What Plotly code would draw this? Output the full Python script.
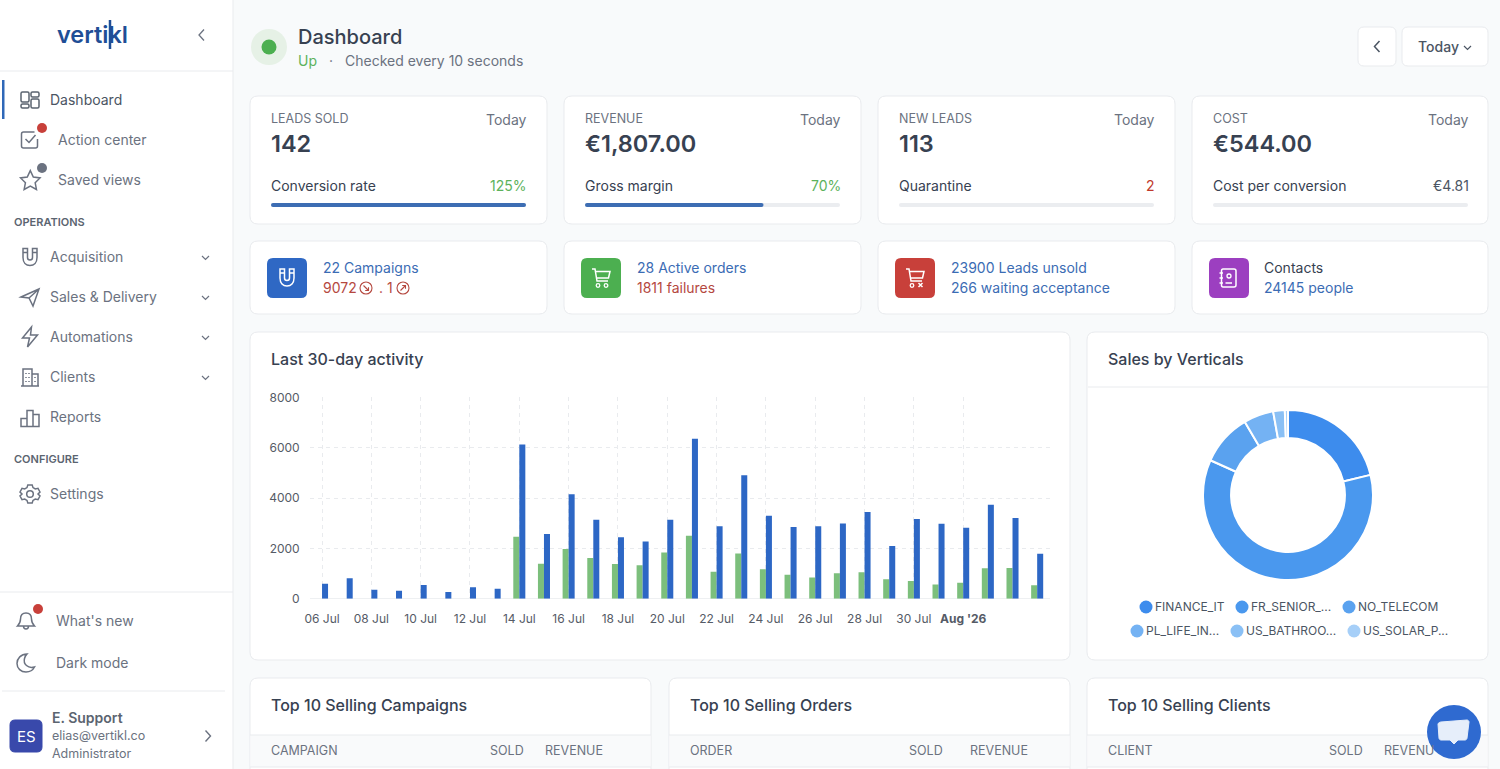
import re
import plotly.graph_objects as go

FONT = "Inter"
DARK = "#374151"
GREY = "#6b7280"
BLUE = "#3b6cb4"
RED = "#b5483f"
GREEN = "#5cb25c"
BORDER = "#e9ebee"
PAGE = "#f8fafb"

# activity chart
days = ["06 Jul", "07 Jul", "08 Jul", "09 Jul", "10 Jul", "11 Jul", "12 Jul", "13 Jul", "14 Jul", "15 Jul",
        "16 Jul", "17 Jul", "18 Jul", "19 Jul", "20 Jul", "21 Jul", "22 Jul", "23 Jul", "24 Jul", "25 Jul",
        "26 Jul", "27 Jul", "28 Jul", "29 Jul", "30 Jul", "31 Jul", "01 Aug", "02 Aug", "03 Aug", "04 Aug"]
sold = [0, 0, 0, 0, 0, 0, 0, 0, 2463, 1390,
        1973, 1615, 1377, 1324, 1840, 2502, 1072, 1800, 1165, 953,
        847, 1006, 1046, 768, 702, 569, 635, 1205, 1218, 530]
leads = [596, 808, 357, 318, 543, 265, 450, 397, 6130, 2570,
         4145, 3138, 2436, 2277, 3138, 6355, 2873, 4900, 3297, 2847,
         2873, 2992, 3442, 2092, 3164, 2979, 2820, 3734, 3204, 1787]
tick_days = days[0:27:2]
tick_labels = ["06 Jul", "08 Jul", "10 Jul", "12 Jul", "14 Jul", "16 Jul", "18 Jul", "20 Jul", "22 Jul",
               "24 Jul", "26 Jul", "28 Jul", "30 Jul", "<b>Aug '26</b>"]

# donut
verticals = ["FINANCE_IT", "FR_SENIOR_...", "NO_TELECOM", "PL_LIFE_IN...", "US_BATHROO...", "US_SOLAR_P..."]
vertical_share = [21.2, 60.5, 9.8, 5.7, 2.2, 0.6]
vertical_colors = ["#3d8ced", "#4a98ee", "#5aa2ef", "#74b2f3", "#8ac0f5", "#a6cff8"]
legend_pos = [(1146, 607), (1242, 607), (1349, 607), (1137, 631), (1237, 631), (1354, 631)]

# cards
kpi_titles = ["LEADS SOLD", "REVENUE", "NEW LEADS", "COST"]
kpi_values = ["142", "€1,807.00", "113", "€544.00"]
kpi_rows = ["Conversion rate", "Gross margin", "Quarantine", "Cost per conversion"]
kpi_notes = ["125%", "70%", "2", "€4.81"]
kpi_note_colors = [GREEN, GREEN, "#c0392b", "#4b5563"]
kpi_progress = [1.0, 0.70, 0, 0]
card_x = [250, 564, 878, 1192]

shapes = []
notes = []


def text(x, y, s, size=14, color=GREY, weight=400, anchor="left"):
    notes.append(dict(x=x, y=y - 0.7, xref="x", yref="y", text=s, showarrow=False, xanchor=anchor, yanchor="middle",
                      font=dict(family=FONT, size=size, color=color, weight=weight), borderpad=0, borderwidth=0))


def box(x0, y0, x1, y1, r=8, fill="white", line=BORDER, width=1):
    path = (f"M{x0 + r} {y0} L{x1 - r} {y0} Q{x1} {y0} {x1} {y0 + r} L{x1} {y1 - r} Q{x1} {y1} {x1 - r} {y1} "
            f"L{x0 + r} {y1} Q{x0} {y1} {x0} {y1 - r} L{x0} {y0 + r} Q{x0} {y0} {x0 + r} {y0} Z")
    shapes.append(dict(type="path", path=path, xref="x", yref="y", fillcolor=fill, layer="below",
                       line=dict(color=line, width=width)))


def hline(x0, x1, y, color=BORDER, width=1):
    shapes.append(dict(type="line", x0=x0, x1=x1, y0=y, y1=y, xref="x", yref="y", layer="below",
                       line=dict(color=color, width=width)))


def dot(cx, cy, r, fill=None, line=None, width=1.5, layer="below"):
    shapes.append(dict(type="circle", x0=cx - r, x1=cx + r, y0=cy - r, y1=cy + r, xref="x", yref="y", layer=layer,
                       fillcolor=fill or "rgba(0,0,0,0)", line=dict(color=line or "rgba(0,0,0,0)", width=width if line else 0)))


def icon(path, ox, oy, color=GREY, width=1.5, fill=None, s=1.0, layer="below"):
    out, i = [], 0
    for tok in re.findall(r"[A-Za-z]|-?[\d.]+", path):
        if tok.isalpha():
            out.append(tok)
        else:
            out.append(str(float(tok) * s + (oy if i % 2 else ox)))
            i += 1
    shapes.append(dict(type="path", path=" ".join(out), xref="x", yref="y", layer=layer,
                       fillcolor=fill or "rgba(0,0,0,0)", line=dict(color=color, width=width)))


MAGNET = ("M3 1 L3 10 C3 15 6 18 10 18 C14 18 17 15 17 10 L17 1 L12.5 1 L12.5 10 C12.5 11.5 11.5 12.5 10 12.5 "
          "C8.5 12.5 7.5 11.5 7.5 10 L7.5 1 Z M3 5 L7.5 5 M12.5 5 L17 5")
CART = "M1 1 L4 1 L6 13 L17 13 M4.5 3.5 L19 3.5 L17.5 10 L5.3 10"
CHEV_DOWN = "M0 0 L3.5 3.5 L7 0"
CHEV_LEFT = "M5 0 L0 5.5 L5 11"

# sidebar
box(-3, -3, 233, 772, r=0)
hline(0, 233, 71)
hline(0, 233, 592)
hline(2, 225, 691)
shapes.append(dict(type="rect", x0=2, x1=4.5, y0=80, y1=119, xref="x", yref="y", fillcolor="#2f68b8",
                   layer="below", line=dict(width=0)))

text(57, 35.5, "vertikl", 23.5, "#1f4e96", 600)
shapes.append(dict(type="line", x0=110, x1=110, y0=20, y1=49, xref="x", yref="y", layer="above",
                   line=dict(color="#1f4e96", width=2.5)))
icon(CHEV_LEFT, 199, 29.5, GREY, 1.3)

text(50, 100, "Dashboard", 14, "#4b5563")
for bx0, by0, bx1, by1 in [(21, 92, 29, 102), (21, 104, 29, 108), (31, 92, 39, 97), (31, 99, 39, 108)]:
    box(bx0, by0, bx1, by1, r=1.5, fill="white", line="#5b6470", width=1.5)

text(58, 140, "Action center")
icon("M14 1 L3 1 C2 1 1 2 1 3 L1 15 C1 16 2 17 3 17 L15 17 C16 17 17 16 17 15 L17 8 M5 8 L8.5 11.5 L15 4", 20.5, 131)
dot(42, 128, 5, fill="#c8403a")
text(58, 180, "Saved views")
icon("M10 1 L12.8 7 L19 7.8 L14.5 12.2 L15.7 18.5 L10 15.4 L4.3 18.5 L5.5 12.2 L1 7.8 L7.2 7 Z", 19.5, 169.5, s=1.08)
dot(42, 168, 5, fill=GREY)

text(14, 223, "OPERATIONS", 11, "#5b6470", 600)
text(50, 257, "Acquisition")
icon(MAGNET, 20, 247.5)
text(50, 297, "Sales &amp; Delivery")
icon("M1 10 L19 2 L13 19 L9 11 Z M9 11 L19 2", 20, 287)
text(50, 337, "Automations")
icon("M11 0 L2 11 L9 11 L7 20 L17 8 L10 8 Z", 20.5, 327)
text(50, 377, "Clients")
icon("M3 19 L3 2 L12 2 L12 19 M12 7 L18 7 L18 19 M1 19 L19 19 M6 6 L6 7 M9 6 L9 7 M6 10 L6 11 M9 10 L9 11 "
     "M6 14 L6 15 M9 14 L9 15 M15 10 L15 11 M15 14 L15 15", 20, 367)
text(50, 417, "Reports")
icon("M1 19 L1 11 L7 11 L7 19 Z M7 19 L7 3 L13 3 L13 19 Z M13 19 L13 7 L19 7 L19 19 Z", 20, 407.5)
for cy in [257, 297, 337, 377]:
    icon(CHEV_DOWN, 202, cy - 1, GREY, 1.2)
text(14, 460, "CONFIGURE", 11, "#5b6470", 600)
text(50, 494, "Settings")
icon("M7.8 1 L12.2 1 L13 3.6 L15.3 5 L18 4.3 L20 8 L18 10 L20 12 L18 15.7 L15.3 15 L13 16.4 L12.2 19 L7.8 19 "
     "L7 16.4 L4.7 15 L2 15.7 L0 12 L2 10 L0 8 L2 4.3 L4.7 5 L7 3.6 Z", 20, 484)
dot(30, 494, 3.3, line=GREY)

text(56, 621, "What's new")
icon("M10 2 C6 2 4.5 5 4.5 8 C4.5 12 3 13.5 1.5 15 L18.5 15 C17 13.5 15.5 12 15.5 8 C15.5 5 14 2 10 2 Z "
     "M7.5 15 C7.5 19 12.5 19 12.5 15", 16, 611)
dot(38, 609, 5, fill="#c8403a")
text(56, 663, "Dark mode")
icon("M11 1 C5 1 1 5.5 1 10.5 C1 15.5 5 19 10 19 C14 19 17 17 18.5 14 C12 16 7 11 8.5 5.5 C9 3.5 10 2 11 1 Z", 16, 653)

box(10, 720, 42, 752, r=5, fill="#3949ab", line="#3949ab")
text(26, 736.7, "ES", 15, "white", 400, "center")
text(52, 718, "E. Support", 14, "#5b6470", 600)
text(52, 736, "elias@vertikl.co", 12.5, GREY)
text(52, 754, "Administrator", 12.5, GREY)
icon("M0 0 L5 5.5 L0 11", 205.5, 730.5, GREY, 1.4)

# page header
dot(269, 47, 18, fill="#e6f1e6")
dot(269, 47, 7.5, fill="#4caf50")
text(298, 37.5, "Dashboard", 20, DARK, 500)
text(298, 61, "Up", 14, GREEN)
text(331, 61, "·", 14, GREY, 400, "center")
text(345, 61, "Checked every 10 seconds", 14, GREY)
box(1358, 27, 1396, 66, r=6)
icon(CHEV_LEFT, 1374.5, 41, "#4b5563", 1.5)
box(1402, 27, 1488, 66, r=6)
text(1418, 47, "Today", 14, "#4b5563", 500)
icon(CHEV_DOWN, 1464, 46, "#4b5563", 1.2)

# KPI cards
for i, cx in enumerate(card_x):
    x1 = 1488 if i == 3 else cx + 297
    box(cx, 96, x1, 224)
    text(cx + 21, 119.5, kpi_titles[i], 12.5, GREY)
    text(cx + 277, 120, "Today", 14, GREY, 400, "right")
    text(cx + 21, 144, kpi_values[i], 23.5, DARK, 600)
    text(cx + 21, 186, kpi_rows[i], 14, DARK)
    text(cx + 277, 186, kpi_notes[i], 14, kpi_note_colors[i], 400, "right")
    box(cx + 21, 203, cx + 276, 207, r=2, fill="#ebedf0", line="#ebedf0", width=0)
    if kpi_progress[i]:
        box(cx + 21, 203, cx + 21 + 255 * kpi_progress[i], 207, r=2, fill="#3d6db3", line="#3d6db3", width=0)

# small link cards
tile_colors = ["#2f68c4", "#4caf50", "#c8403a", "#9c3fc0"]
for i, cx in enumerate(card_x):
    x1 = 1488 if i == 3 else cx + 297
    box(cx, 241, x1, 314)
    box(cx + 17, 258, cx + 57, 298, r=6, fill=tile_colors[i], line=tile_colors[i], width=0)

icon(MAGNET, 277, 268, "white", 1.5)
icon(CART, 591, 268, "white", 1.5)
dot(598, 285.5, 1.8, line="white", width=1.3)
dot(606, 285.5, 1.8, line="white", width=1.3)
icon(CART, 905, 268, "white", 1.5)
dot(912, 285.5, 1.8, line="white", width=1.3)
icon("M0 0 L4 4 M4 0 L0 4", 918.5, 283, "white", 1.5)
icon("M5 1 L16 1 C17 1 18 2 18 3 L18 17 C18 18 17 19 16 19 L5 19 C4 19 3.5 18 3.5 17 L3.5 3 C3.5 2 4 1 5 1 Z "
     "M1.5 5 L5 5 M1.5 10 L5 10 M1.5 15 L5 15 M7.5 15 L14 15", 1218, 268, "white", 1.5)
dot(1229, 276, 2, line="white", width=1.3)

text(323, 268, "22 Campaigns", 14, BLUE)
text(323, 288, "9072", 14, RED)
dot(366, 288, 6, line=RED, width=1.1)
icon("M-2.5 -2.5 L2.5 2.5 M2.5 -0.8 L2.5 2.5 L-0.8 2.5", 366, 288, RED, 1.1)
text(379, 288, ". 1", 14, RED)
dot(403, 288, 6, line=RED, width=1.1)
icon("M-2.5 2.5 L2.5 -2.5 M2.5 0.8 L2.5 -2.5 L-0.8 -2.5", 403, 288, RED, 1.1)
text(637, 268, "28 Active orders", 14, BLUE)
text(637, 288, "1811 failures", 14, RED)
text(951, 268, "23900 Leads unsold", 14, BLUE)
text(951, 288, "266 waiting acceptance", 14, BLUE)
text(1264, 268, "Contacts", 14, DARK)
text(1264, 288, "24145 people", 14, BLUE)

# chart cards
box(250, 332, 1070, 660)
text(271, 360, "Last 30-day activity", 16, DARK, 500)
box(1087, 332, 1488, 660)
hline(1088, 1488, 387)
text(1108, 360, "Sales by Verticals", 16, DARK, 500)
for name, (lx, ly), col in zip(verticals, legend_pos, vertical_colors):
    dot(lx, ly, 6.5, fill=col)
    text(lx + 9, ly, name, 12, "#4b5563")

# bottom tables
for x0, x1, title, head, sold_x, rev_x, rev_text in [
    (250, 651, "Top 10 Selling Campaigns", "CAMPAIGN", 490, 545, "REVENUE"),
    (669, 1070, "Top 10 Selling Orders", "ORDER", 909, 970, "REVENUE"),
    (1087, 1488, "Top 10 Selling Clients", "CLIENT", 1329, 1384, "REVENU"),
]:
    box(x0, 678, x1, 790)
    shapes.append(dict(type="rect", x0=x0 + 0.5, x1=x1 - 0.5, y0=735, y1=767, xref="x", yref="y",
                       fillcolor="#f9fafb", layer="below", line=dict(width=0)))
    hline(x0, x1, 735)
    hline(x0, x1, 767)
    text(x0 + 21, 706, title, 16, DARK, 500)
    text(x0 + 21, 751, head, 12.5, GREY)
    text(sold_x, 751, "SOLD", 12.5, GREY)
    text(rev_x, 751, rev_text, 12.5, GREY)

# chat bubble
dot(1454, 732, 27, fill="#2f6ad0", layer="above")
icon("M3 0 L29 -2 C30 -2 31 -1 31 0 L29 16 C29 17 28 18 27 18 L20 18 L16 22 L12 18 L3 18 C2 18 1 17 1 16 L0 2 C0 1 2 0 3 0 Z",
     1438, 722, "#e6eefa", 1, fill="#e6eefa", layer="above")

fig = go.Figure()
# empty trace so the pixel canvas axes (x, y) exist under the chart
fig.add_trace(go.Scatter(x=[], y=[], xaxis="x", yaxis="y", showlegend=False, hoverinfo="skip"))
fig.add_trace(go.Bar(x=days, y=sold, name="Sold", xaxis="x2", yaxis="y2", marker=dict(color="#7cbf7c", line=dict(width=0))))
fig.add_trace(go.Bar(x=days, y=leads, name="Leads", xaxis="x2", yaxis="y2", marker=dict(color="#2d67c5", line=dict(width=0))))
fig.add_trace(go.Pie(labels=verticals, values=vertical_share, hole=0.67, sort=False, direction="clockwise", rotation=0,
                     textinfo="none", marker=dict(colors=vertical_colors, line=dict(color="white", width=2)),
                     domain=dict(x=[1203 / 1500, 1373 / 1500], y=[1 - 580 / 769, 1 - 410 / 769]), showlegend=False))

fig.update_layout(
    width=1500, height=769, margin=dict(l=0, r=0, t=0, b=0, pad=0), autosize=False,
    paper_bgcolor=PAGE, plot_bgcolor="rgba(0,0,0,0)",
    showlegend=False, barmode="group", bargap=0.512, bargroupgap=0,
    font=dict(family=FONT, color="#555b66", size=12),
    shapes=shapes, annotations=notes,
    xaxis=dict(domain=[0, 1], range=[0, 1500], visible=False, fixedrange=True, anchor="y", automargin=False),
    yaxis=dict(domain=[0, 1], range=[769, 0], visible=False, fixedrange=True, anchor="x", automargin=False),
    xaxis2=dict(domain=[309.7 / 1500, 1049.5 / 1500], anchor="y2", type="category", categoryorder="array",
                categoryarray=days, tickmode="array", tickvals=tick_days, ticktext=tick_labels, automargin=False,
                showgrid=True, gridcolor="#e9ebee", griddash="4px,4px", gridwidth=1, ticks="", showline=False,
                zeroline=False, tickfont=dict(size=12, color="#555b66"), tickangle=0, ticklabeloverflow="allow",
                ticklabelstandoff=11, fixedrange=True),
    yaxis2=dict(domain=[1 - 598.7 / 769, 1 - 397.3 / 769], anchor="x2", range=[0, 8000], tickmode="array",
                tickvals=[0, 2000, 4000, 6000, 8000], ticktext=["0", "2000", "4000", "6000", "8000"], automargin=False,
                showgrid=True, gridcolor="#e9ebee", griddash="4px,4px", gridwidth=1, ticks="", showline=False,
                zeroline=True, zerolinecolor="#eef0f2", zerolinewidth=1, tickfont=dict(size=12, color="#555b66"),
                ticklabelstandoff=9, fixedrange=True),
)

fig.write_html("out.html", config=dict(displayModeBar=False),
               post_script="document.body.style.margin='0';document.body.style.overflow='hidden';")
